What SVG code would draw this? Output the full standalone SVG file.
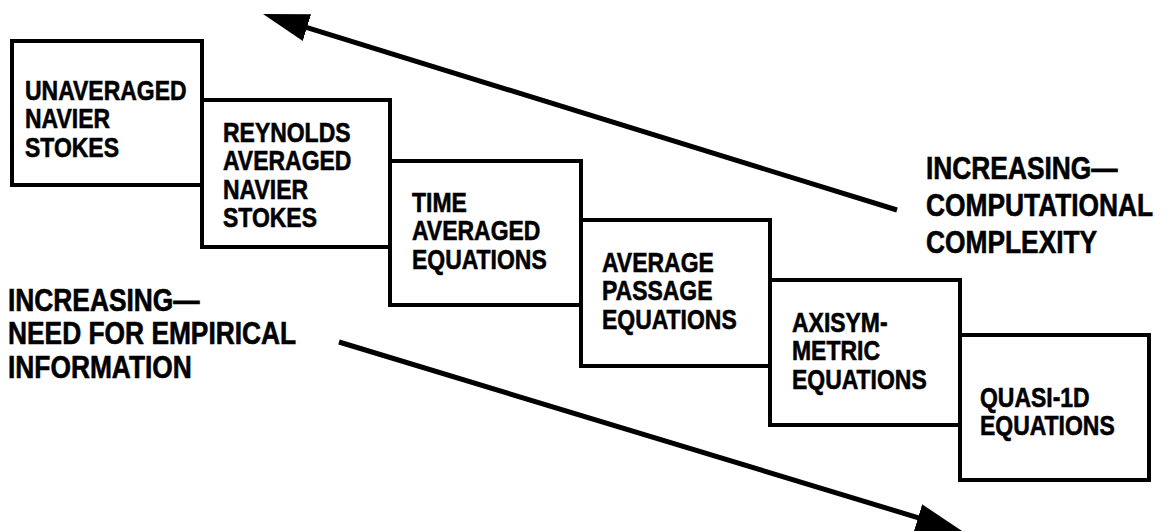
<svg xmlns="http://www.w3.org/2000/svg" width="1166" height="532" viewBox="0 0 1166 532">
<style>
.box{fill:#fff;stroke:#000;stroke-width:4}
.t{font-family:"Liberation Sans",Arial,sans-serif;font-weight:bold;font-size:28px;fill:#000;stroke:#000;stroke-width:0.6}
.l{font-family:"Liberation Sans",Arial,sans-serif;font-weight:bold;font-size:31px;fill:#000;stroke:#000;stroke-width:0.6}
.arr{fill:none;stroke:#000;stroke-width:5}
</style>
<defs>
<marker id="ah" markerUnits="userSpaceOnUse" viewBox="0 -14 46 28" refX="10" refY="0" markerWidth="46" markerHeight="28" orient="auto">
<path d="M0,-14 L46,0 L0,14 z" fill="#000"/>
</marker>
</defs>
<rect width="1166" height="532" fill="#fff"/>
<g id="connectors">
<line class="arr" x1="897" y1="210" x2="297.4" y2="24.6" marker-end="url(#ah)"/>
<line class="arr" x1="339" y1="342" x2="927.6" y2="520.6" marker-end="url(#ah)"/>
</g>
<g id="n1"><rect class="box" x="12" y="41" width="190" height="144"/>
<text class="t" transform="translate(25,100) scale(0.82,1)"><tspan x="0" y="0">UNAVERAGED</tspan><tspan x="0" y="28.5">NAVIER</tspan><tspan x="0" y="57">STOKES</tspan></text></g>
<g id="n2"><rect class="box" x="202" y="100" width="188" height="147"/>
<text class="t" transform="translate(223,142) scale(0.82,1)"><tspan x="0" y="0">REYNOLDS</tspan><tspan x="0" y="28.3">AVERAGED</tspan><tspan x="0" y="56.6">NAVIER</tspan><tspan x="0" y="85">STOKES</tspan></text></g>
<g id="n3"><rect class="box" x="390" y="161" width="191" height="144"/>
<text class="t" transform="translate(412,212) scale(0.82,1)"><tspan x="0" y="0">TIME</tspan><tspan x="0" y="28.5">AVERAGED</tspan><tspan x="0" y="57">EQUATIONS</tspan></text></g>
<g id="n4"><rect class="box" x="581" y="220" width="189" height="146"/>
<text class="t" transform="translate(602,272) scale(0.82,1)"><tspan x="0" y="0">AVERAGE</tspan><tspan x="0" y="28.5">PASSAGE</tspan><tspan x="0" y="57">EQUATIONS</tspan></text></g>
<g id="n5"><rect class="box" x="770" y="280" width="190" height="145"/>
<text class="t" transform="translate(792,332) scale(0.82,1)"><tspan x="0" y="0">AXISYM-</tspan><tspan x="0" y="28.5">METRIC</tspan><tspan x="0" y="57">EQUATIONS</tspan></text></g>
<g id="n6"><rect class="box" x="960" y="335" width="189" height="145"/>
<text class="t" transform="translate(980,407) scale(0.82,1)"><tspan x="0" y="0">QUASI-1D</tspan><tspan x="0" y="28.5">EQUATIONS</tspan></text></g>
<g id="label-complexity">
<text class="l" transform="translate(926,179) scale(0.85,1)"><tspan x="0" y="0">INCREASING—</tspan><tspan x="0" y="37">COMPUTATIONAL</tspan><tspan x="0" y="74">COMPLEXITY</tspan></text></g>
<g id="label-empirical">
<text class="l" transform="translate(8,311) scale(0.85,1)"><tspan x="0" y="0">INCREASING—</tspan><tspan x="0" y="33.5">NEED FOR EMPIRICAL</tspan><tspan x="0" y="67">INFORMATION</tspan></text></g>
</svg>
